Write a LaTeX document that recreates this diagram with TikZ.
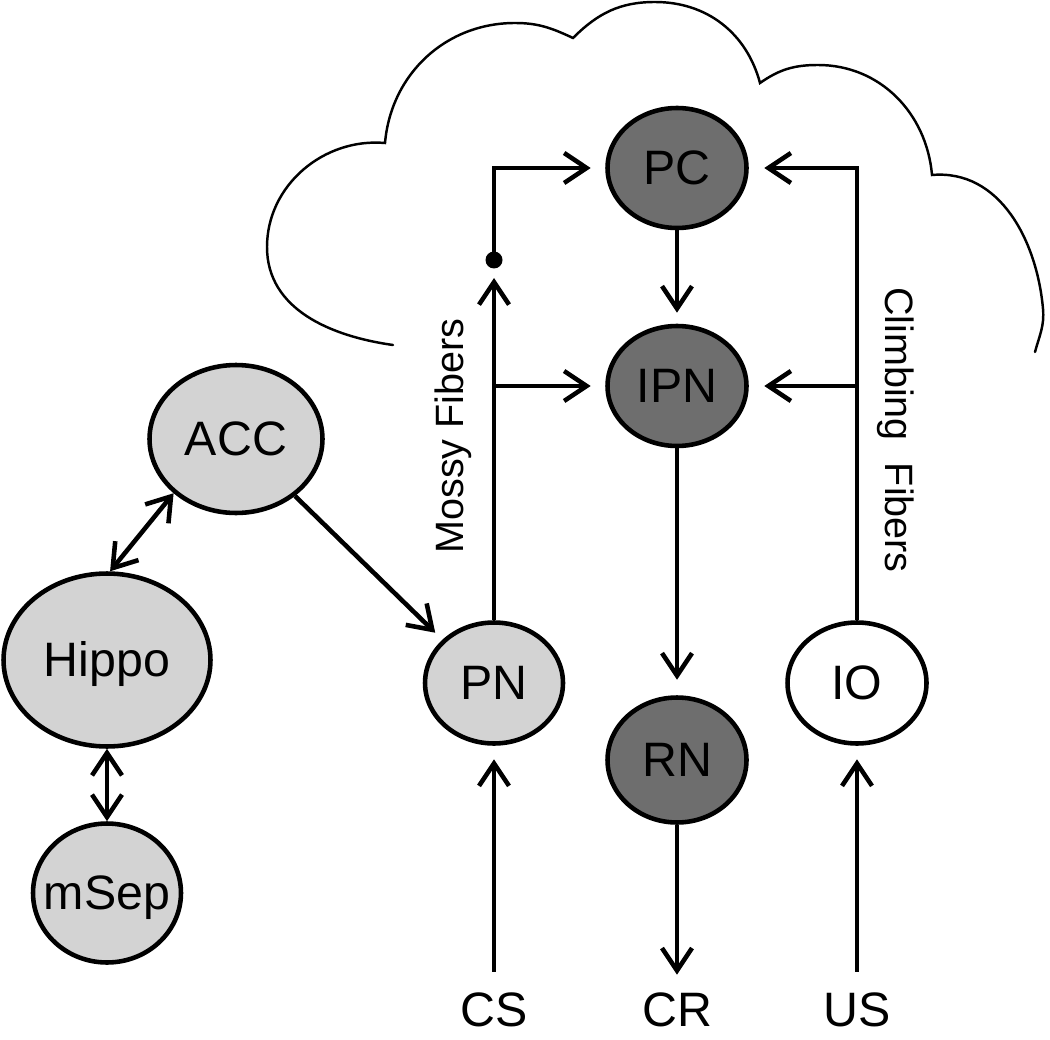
\documentclass[tikz,border=0pt]{standalone}
\usepackage{fontspec}
\setmainfont{Liberation Sans}
\usetikzlibrary{shapes.geometric, arrows.meta}
\definecolor{darkfill}{HTML}{6E6E6E}
\definecolor{lightfill}{HTML}{D3D3D3}
\begin{document}
\begin{tikzpicture}[x=0.02cm,y=0.02cm,
  region/.style={ellipse, draw=black, line width=2.6pt, inner sep=0pt,
    text height=0.66cm, text depth=0cm, font=\fontsize{27.5pt}{30pt}\selectfont},
  dark/.style={region, fill=darkfill},
  light/.style={region, fill=lightfill},
  plain/.style={region, fill=white},
  arr/.style={line width=2.6pt, -{Straight Barb[length=0.45cm,width=0.6cm]}},
  dblarr/.style={line width=2.6pt, {Straight Barb[length=0.45cm,width=0.6cm]}-{Straight Barb[length=0.45cm,width=0.6cm]}},
  sig/.style={inner sep=0pt, text height=0.66cm, text depth=0cm, font=\fontsize{27.5pt}{30pt}\selectfont},
  fiber/.style={inner sep=0pt, font=\fontsize{22.5pt}{25pt}\selectfont},
  cloudline/.style={line width=1.4pt, line cap=round}
]
\useasboundingbox (0,0) rectangle (1050,1039);

% cloud
\draw[cloudline]
  (393,694) to[out=172, in=270] (267,792) to[out=90, in=175] (385,896)
  to[out=85, in=180] (515,1016) to[out=0, in=155] (573,1001)
  to[out=45, in=180] (655,1037) to[out=0, in=105] (760,956)
  to[out=35, in=180] (818,974) to[out=0, in=95] (932,864)
  to[out=5, in=95] (1043,730) to[out=-85, in=75] (1035,687);

% nodes
\node[dark, minimum width=2.78cm, minimum height=2.4cm] (PC) at (677,871) {PC};
\node[dark, minimum width=2.78cm, minimum height=2.4cm] (IPN) at (677,653) {IPN};
\node[dark, minimum width=2.78cm, minimum height=2.5cm] (RN) at (677,279) {RN};
\node[light, minimum width=2.76cm, minimum height=2.42cm] (PN) at (494,356) {PN};
\node[plain, minimum width=2.78cm, minimum height=2.42cm] (IO) at (857,356) {IO};
\node[light, minimum width=3.46cm, minimum height=2.96cm] (ACC) at (236,600) {ACC};
\node[light, minimum width=4.14cm, minimum height=3.46cm] (Hippo) at (107,379) {Hippo};
\node[light, minimum width=2.96cm, minimum height=2.78cm] (mSep) at (107,146) {\makebox[0pt]{mSep}};

\node[sig] (CS) at (494,29) {CS};
\node[sig] (CR) at (677,29) {CR};
\node[sig] (US) at (857,29) {US};

\node[fiber, rotate=90] (mossy) at (453,603) {Mossy Fibers};
\node[fiber, rotate=-90] (climb) at (896,609) {Climbing~~Fibers};

\coordinate (dot) at (494,779);

% connectors
\draw[dblarr] (ACC.221) -- (Hippo.88);
\draw[dblarr] (Hippo.south) -- (mSep.north);
\draw[arr, shorten >=0.2cm] (ACC.-44) -- (PN.140);

\draw[arr, shorten <=0.43cm, shorten >=0.27cm] (CS.north) -- (PN.south);
\draw[arr, shorten <=0.43cm, shorten >=0.27cm] (US.north) -- (IO.south);
\draw[arr, shorten >=0.37cm] (RN.south) -- (CR.north);
\draw[arr, shorten >=0.22cm] (PC.south) -- (IPN.north);
\draw[arr, shorten >=0.31cm] (IPN.south) -- (RN.north);

\draw[arr, shorten >=0.36cm] (PN.north) -- (dot);
\fill (dot) circle[radius=0.17cm];
\draw[arr, shorten >=0.29cm] (dot) |- (PC.west);
\draw[arr, shorten >=0.29cm] (PN.north |- IPN.west) -- (IPN.west);

\draw[arr, shorten >=0.31cm] (IO.north) |- (PC.east);
\draw[arr, shorten >=0.31cm] (IO.north |- IPN.east) -- (IPN.east);
\end{tikzpicture}
\end{document}
